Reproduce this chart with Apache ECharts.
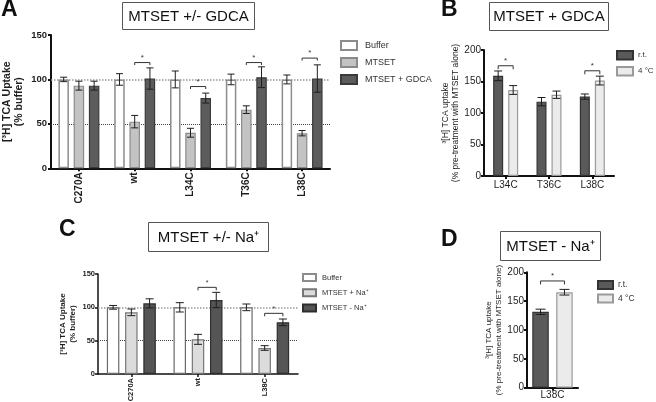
<!DOCTYPE html>
<html>
<head>
<meta charset="utf-8">
<script src="https://cdn.jsdelivr.net/npm/echarts@6/dist/echarts.min.js"></script>
<style>
html,body{margin:0;padding:0;background:#fff;}
#chart{width:656px;height:402px;}
</style>
</head>
<body>
<div id="chart"></div>
<script>
// ---------- Panel A: MTSET +/- GDCA ----------
const catsA = ['C270A', 'wt', 'L34C', 'T36C', 'L38C'];
const bufferA = [100, 100, 100, 100, 100];
const errBufferA = [2.5, 6.5, 9.5, 6, 5];
const mtsetA = [93, 52.5, 40, 66, 39.5];
const errMtsetA = [5, 7, 5, 4.3, 3];
const gdcaA = [93, 101, 79, 102.5, 101];
const errGdcaA = [5, 12, 5.6, 11.7, 15.4];
const sigA = [[1, 1, 2, 119], [2, 1, 2, 92], [3, 1, 2, 119], [4, 1, 2, 124]]; // [category, bar, bar, level]
const ticksA = [0, 50, 100, 150];

// ---------- Panel B: MTSET + GDCA ----------
const catsB = ['L34C', 'T36C', 'L38C'];
const rtB = [159, 118, 126];
const errRtB = [7.7, 6.6, 4.2];
const coldB = [136.5, 129, 151.5];
const errColdB = [7, 5.8, 7];
const sigB = [[0, 0, 1, 175], [2, 0, 1, 167]];
const ticksB = [0, 50, 100, 150, 200];

// ---------- Panel C: MTSET +/- Na+ ----------
const catsC = ['C270A', 'wt', 'L38C'];
const bufferC = [100, 100, 100];
const errBufferC = [2.8, 7, 5];
const naPlusC = [92.5, 52, 39];
const errNaPlusC = [5, 7.5, 3.5];
const naMinusC = [106, 111, 77.5];
const errNaMinusC = [6.8, 11.5, 5];
const sigC = [[1, 1, 2, 130], [2, 1, 2, 91]];
const ticksC = [0, 50, 100, 150];

// ---------- Panel D: MTSET - Na+ ----------
const catsD = ['L38C'];
const rtD = [131.5];
const errRtD = [4.6];
const coldD = [165.5];
const errColdD = [4.9];
const sigD = [[0, 0, 1, 185]];
const ticksD = [0, 50, 100, 150, 200];

const FONT = 'Liberation Sans, Arial, sans-serif';
const INK = '#1e1e1e';

function errData(valsList, errsList) {
  const out = [];
  valsList.forEach((vals, s) => vals.forEach((v, i) => out.push([i, s, v, errsList[s][i]])));
  return out;
}

function errRender(n, step, cap) {
  return function (params, api) {
    const cat = api.value(0), idx = api.value(1), mean = api.value(2), err = api.value(3);
    const c = api.coord([cat, mean]);
    const hi = api.coord([cat, mean + err])[1];
    const lo = api.coord([cat, mean - err])[1];
    const x = c[0] + (idx - (n - 1) / 2) * step;
    const st = { stroke: INK, lineWidth: 1 };
    return {
      type: 'group',
      children: [
        { type: 'line', shape: { x1: x, y1: hi, x2: x, y2: lo }, style: st },
        { type: 'line', shape: { x1: x - cap / 2, y1: hi, x2: x + cap / 2, y2: hi }, style: st },
        { type: 'line', shape: { x1: x - cap / 2, y1: lo, x2: x + cap / 2, y2: lo }, style: st }
      ]
    };
  };
}

function sigRender(n, step, tick, starSize) {
  return function (params, api) {
    const cat = api.value(0), i = api.value(1), j = api.value(2), lvl = api.value(3);
    const c = api.coord([cat, lvl]);
    const x1 = c[0] + (i - (n - 1) / 2) * step;
    const x2 = c[0] + (j - (n - 1) / 2) * step;
    const y = c[1];
    return {
      type: 'group',
      children: [
        { type: 'polyline', shape: { points: [[x1, y + tick], [x1, y], [x2, y], [x2, y + tick]] },
          style: { stroke: '#333', lineWidth: 1, fill: null } },
        { type: 'text', style: { x: (x1 + x2) / 2, y: y - 1, text: '*', fontSize: starSize,
          fontFamily: FONT, fill: '#333', align: 'center', verticalAlign: 'bottom' } }
      ]
    };
  };
}

function yAxisCfg(gi, max, ticks, name, o) {
  return {
    type: 'value', gridIndex: gi, min: 0, max: max, interval: 50,
    name: name, nameLocation: 'middle', nameGap: o.nameGap,
    nameTextStyle: { fontFamily: FONT, fontSize: o.nameSize, fontWeight: o.bold ? 'bold' : 'normal',
      color: INK, lineHeight: o.nameLH, align: 'center', padding: o.namePad || 0 },
    axisLine: { show: true, lineStyle: { color: '#111', width: o.lw } },
    axisTick: { show: true, length: o.tick, lineStyle: { color: '#111', width: o.lw } },
    axisLabel: { fontFamily: FONT, fontSize: o.labelSize, fontWeight: o.bold ? 'bold' : 'normal',
      color: INK, margin: o.margin,
      formatter: v => (ticks.indexOf(v) >= 0 ? String(v) : '') },
    splitLine: { show: false }
  };
}

function xAxisCfg(gi, cats, o) {
  return {
    type: 'category', gridIndex: gi, data: cats,
    axisLine: { show: true, lineStyle: { color: '#111', width: o.lw } },
    axisTick: { show: true, alignWithLabel: true, length: o.tick, lineStyle: { color: '#111', width: o.lw } },
    axisLabel: { fontFamily: FONT, fontSize: o.labelSize, fontWeight: o.bold ? 'bold' : 'normal',
      color: INK, rotate: o.rotate || 0, margin: o.margin, interval: 0 }
  };
}

function refLines() {
  return {
    silent: true, symbol: 'none', z: 1, animation: false,
    label: { show: false },
    data: [
      { yAxis: 100, lineStyle: { type: 'dotted', color: '#9a9a9a', width: 1.5 } },
      { yAxis: 50, lineStyle: { type: 'dotted', color: '#444', width: 1 } }
    ]
  };
}

function bar(name, gi, vals, w, gap, fill, border, bw, extra) {
  return Object.assign({
    type: 'bar', name: name, xAxisIndex: gi, yAxisIndex: gi, data: vals,
    barWidth: w, barGap: gap,
    itemStyle: { color: fill, borderColor: border, borderWidth: bw },
    z: 2
  }, extra || {});
}

// bar geometry per panel (width, gap)
const A_W = 10.5, A_G = 0.45, B_W = 10, B_G = 0.5, C_W = 12.5, C_G = 0.46, D_W = 16.5, D_G = 0.45;

function titleBox(x, y, w, h, text) {
  return {
    type: 'group', left: x, top: y, children: [
      { type: 'rect', shape: { x: 0, y: 0, width: w, height: h },
        style: { fill: '#fff', stroke: '#555', lineWidth: 1 } },
      { type: 'text', x: w / 2, y: h / 2 + 0.5,
        style: { text: text, fontFamily: FONT, fontSize: 15, fill: '#111', align: 'center', verticalAlign: 'middle' } }
    ]
  };
}
function letter(x, y, t) {
  return { type: 'text', left: x, top: y,
    style: { text: t, fontFamily: FONT, fontSize: 23, fontWeight: 'bold', fill: '#111' } };
}

const chart = echarts.init(document.getElementById('chart'), null, { renderer: 'canvas' });

const legendCommon = { orient: 'vertical', icon: 'rect', selectedMode: false };

const option = {
  animation: false,
  backgroundColor: '#fff',
  grid: [
    { left: 51, top: 35, width: 279, height: 133.3, outerBoundsMode: 'none', containLabel: false },
    { left: 484, top: 50, width: 130, height: 126, outerBoundsMode: 'none', containLabel: false },
    { left: 98, top: 274, width: 200, height: 100, outerBoundsMode: 'none', containLabel: false },
    { left: 527, top: 272.3, width: 51, height: 115.4, outerBoundsMode: 'none', containLabel: false }
  ],
  xAxis: [
    xAxisCfg(0, catsA, { lw: 2, tick: 3, labelSize: 10, bold: true, rotate: 90, margin: 4 }),
    xAxisCfg(1, catsB, { lw: 2, tick: 3, labelSize: 10, bold: false, margin: 4 }),
    xAxisCfg(2, catsC, { lw: 1.5, tick: 3, labelSize: 7.5, bold: true, rotate: 90, margin: 4 }),
    xAxisCfg(3, catsD, { lw: 2, tick: 3, labelSize: 10, bold: false, margin: 3 })
  ],
  yAxis: [
    yAxisCfg(0, 150, ticksA, '[³H] TCA Uptake\n(% buffer)',
      { nameGap: 26, nameSize: 10.5, nameLH: 12, bold: true, lw: 2, tick: 3, labelSize: 9.5, margin: 4 }),
    yAxisCfg(1, 200, ticksB, '³[H] TCA uptake\n(% pre-treatment with MTSET alone)',
      { nameGap: 20.5, nameSize: 8.5, nameLH: 10, bold: false, lw: 2, tick: 3, labelSize: 10, margin: 3 }),
    yAxisCfg(2, 150, ticksC, '[³H] TCA Uptake\n(% buffer)',
      { nameGap: 20, nameSize: 8, nameLH: 10, bold: true, lw: 1.5, tick: 3, labelSize: 7.5, margin: 3 }),
    yAxisCfg(3, 200, ticksD, '³[H] TCA uptake\n(% pre-treatment with MTSET alone)',
      { nameGap: 22, nameSize: 8, nameLH: 10, bold: false, lw: 2, tick: 3, labelSize: 10, margin: 3 })
  ],
  legend: [
    Object.assign({}, legendCommon, { left: 335, top: 35, itemWidth: 16, itemHeight: 9, itemGap: 6,
      data: ['Buffer', 'MTSET', 'MTSET + GDCA'],
      textStyle: { fontFamily: FONT, fontSize: 9, color: '#333', padding: [0, 0, 0, 3] } }),
    Object.assign({}, legendCommon, { left: 616, top: 50, itemWidth: 16, itemHeight: 8.5, itemGap: 5.5,
      padding: 0,
      data: ['r.t.', '4 °C'],
      textStyle: { fontFamily: FONT, fontSize: 8, color: '#333', padding: 0, overflow: 'none' } }),
    Object.assign({}, legendCommon, { left: 297, top: 268, itemWidth: 13, itemHeight: 7, itemGap: 6.3,
      data: ['Buffer', 'MTSET + Na⁺', 'MTSET - Na⁺'],
      textStyle: { fontFamily: FONT, fontSize: 7.5, color: '#333', padding: [0, 0, 0, 1] } }),
    Object.assign({}, legendCommon, { left: 592, top: 275, itemWidth: 15, itemHeight: 8, itemGap: 3.5,
      data: ['r.t.', '4 °C'],
      textStyle: { fontFamily: FONT, fontSize: 8.5, color: '#333', padding: [0, 0, 0, 0] } })
  ],
  graphic: [
    letter(1, -2, 'A'), letter(441, -2, 'B'), letter(59, 218, 'C'), letter(441, 228, 'D'),
    titleBox(122, 2, 132, 27, 'MTSET +/- GDCA'),
    titleBox(489, 2, 119, 28, 'MTSET + GDCA'),
    titleBox(148, 222, 120, 29, 'MTSET +/- Na⁺'),
    titleBox(500, 231, 100, 29, 'MTSET - Na⁺')
  ],
  series: [
    // A
    bar('Buffer', 0, bufferA, A_W, A_G * 100 + '%', '#ffffff', '#8c8c8c', 1.5, { markLine: refLines() }),
    bar('MTSET', 0, mtsetA, A_W, A_G * 100 + '%', '#c3c3c3', '#8a8a8a', 1.2),
    bar('MTSET + GDCA', 0, gdcaA, A_W, A_G * 100 + '%', '#5c5c5c', '#3a3a3a', 1.2),
    { type: 'custom', xAxisIndex: 0, yAxisIndex: 0, z: 4, clip: false, silent: true,
      renderItem: errRender(3, A_W * (1 + A_G), 7),
      data: errData([bufferA, mtsetA, gdcaA], [errBufferA, errMtsetA, errGdcaA]),
      encode: { x: 0, y: 2 } },
    { type: 'custom', xAxisIndex: 0, yAxisIndex: 0, z: 4, clip: false, silent: true,
      renderItem: sigRender(3, A_W * (1 + A_G), 2.5, 8), data: sigA, encode: { x: 0, y: 3 } },
    // B
    bar('r.t.', 1, rtB, B_W, B_G * 100 + '%', '#5a5a5a', '#333333', 1.2),
    bar('4 °C', 1, coldB, B_W, B_G * 100 + '%', '#ebebeb', '#9a9a9a', 1.2),
    { type: 'custom', xAxisIndex: 1, yAxisIndex: 1, z: 4, clip: false, silent: true,
      renderItem: errRender(2, B_W * (1 + B_G), 8),
      data: errData([rtB, coldB], [errRtB, errColdB]), encode: { x: 0, y: 2 } },
    { type: 'custom', xAxisIndex: 1, yAxisIndex: 1, z: 4, clip: false, silent: true,
      renderItem: sigRender(2, B_W * (1 + B_G), 3.5, 8), data: sigB, encode: { x: 0, y: 3 } },
    // C
    bar('Buffer', 2, bufferC, C_W, C_G * 100 + '%', '#ffffff', '#6a6a6a', 1.2, { markLine: refLines() }),
    bar('MTSET + Na⁺', 2, naPlusC, C_W, C_G * 100 + '%', '#dcdcdc', '#777777', 1.2),
    bar('MTSET - Na⁺', 2, naMinusC, C_W, C_G * 100 + '%', '#555555', '#2e2e2e', 1.2),
    { type: 'custom', xAxisIndex: 2, yAxisIndex: 2, z: 4, clip: false, silent: true,
      renderItem: errRender(3, C_W * (1 + C_G), 8),
      data: errData([bufferC, naPlusC, naMinusC], [errBufferC, errNaPlusC, errNaMinusC]),
      encode: { x: 0, y: 2 } },
    { type: 'custom', xAxisIndex: 2, yAxisIndex: 2, z: 4, clip: false, silent: true,
      renderItem: sigRender(3, C_W * (1 + C_G), 3, 7), data: sigC, encode: { x: 0, y: 3 } },
    // D
    bar('r.t.', 3, rtD, D_W, D_G * 100 + '%', '#5a5a5a', '#333333', 1.2),
    bar('4 °C', 3, coldD, D_W, D_G * 100 + '%', '#ebebeb', '#9a9a9a', 1.2),
    { type: 'custom', xAxisIndex: 3, yAxisIndex: 3, z: 4, clip: false, silent: true,
      renderItem: errRender(2, D_W * (1 + D_G), 10),
      data: errData([rtD, coldD], [errRtD, errColdD]), encode: { x: 0, y: 2 } },
    { type: 'custom', xAxisIndex: 3, yAxisIndex: 3, z: 4, clip: false, silent: true,
      renderItem: sigRender(2, D_W * (1 + D_G), 3.5, 8), data: sigD, encode: { x: 0, y: 3 } }
  ]
};
chart.setOption(option);
</script>
</body>
</html>
